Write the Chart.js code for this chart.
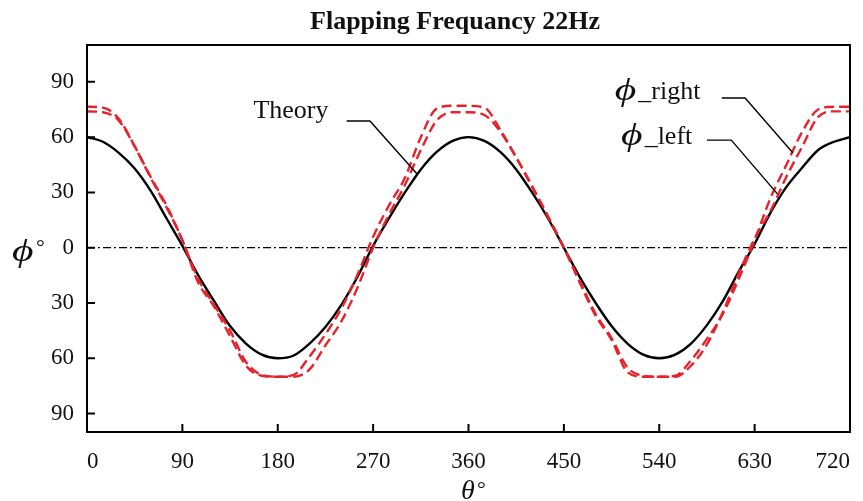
<!DOCTYPE html>
<html>
<head>
<meta charset="utf-8">
<script src="https://cdn.jsdelivr.net/npm/chart.js@4/dist/chart.umd.min.js"></script>
<style>
  html, body { margin: 0; padding: 0; background: #fff; }
  #wrap { width: 863px; height: 501px; }
</style>
</head>
<body>
<div id="wrap"><canvas id="chart"></canvas></div>
<script>
// ─── Data ────────────────────────────────────────────────────────
const theta = [0, 15, 30, 45, 60, 75, 90, 105, 120, 135, 150, 165, 180,
  195, 210, 225, 240, 255, 270, 285, 300, 315, 330, 345, 360,
  375, 390, 405, 420, 435, 450, 465, 480, 495, 510, 525, 540,
  555, 570, 585, 600, 615, 630, 645, 660, 675, 690, 705, 720];

const theory = [60, 57.5, 51.5, 43, 31, 16, 1, -15, -29, -42.5, -52, -58, -60,
  -58.5, -52, -43, -31, -16, 1, 16, 30, 42.5, 52, 58, 60,
  58, 52, 42.5, 30, 16, 0, -16, -30, -42.5, -52, -58, -60,
  -58, -52, -42, -29, -13, 2, 19, 33, 43.5, 53, 57.5, 60];

const phiRight = [76.5, 76, 70, 55, 38, 22, 4, -19, -32, -48, -64, -69.5, -70,
  -69, -59, -47, -33, -15, 6, 23, 38, 60, 75.5, 77, 77,
  76, 64, 49, 33.5, 17, 0, -19, -37, -50, -67.5, -70, -70,
  -69.5, -61, -49.5, -36, -17, 4, 27, 45, 63, 75, 76.5, 76.5];

const phiLeft = [74, 73.5, 69, 55, 38.5, 23, 4, -17, -31, -45, -62, -69, -70,
  -70, -66, -53, -40, -22, 0, 18, 34, 53, 69, 73.5, 73.5,
  72, 63, 49, 33, 17, 0, -18, -36, -49, -65, -69.5, -70,
  -70, -64, -52.5, -35, -14, 5, 20, 38.5, 55, 71, 74, 74];

const xTicks = [0, 90, 180, 270, 360, 450, 540, 630, 720];
const yTicks = [-90, -60, -30, 0, 30, 60, 90];

const TITLE = "Flapping Frequancy 22Hz";

// label anchors in data units: [theta, phi]
const theoryLabel = { text: "Theory", at: [157, 70.3] };
const rightLabel = { text: "_right", at: [498, 80.5] };
const leftLabel = { text: "_left", at: [504, 56.5] };
const theoryLeader = [[245, 68.8], [267, 68.8], [311.5, 40]];
const rightLeader = [[599, 81.2], [621, 81.2], [666, 51.5]];
const leftLeader = [[585, 58.4], [608, 58.4], [651.5, 29.2]];

// ─── Helpers ─────────────────────────────────────────────────────
const SERIF = "'Liberation Serif', 'DejaVu Serif', serif";
const RED = "#e8222c";

function pts(ys) {
  return theta.map((t, i) => ({ x: t, y: ys[i] }));
}

// italic phi, a bit wider than the font gives
function drawPhi(ctx, px, py, size) {
  ctx.save();
  ctx.translate(px, py);
  ctx.scale(1.3, 1);
  ctx.font = "italic " + size + "px " + SERIF;
  ctx.textAlign = "left";
  ctx.fillText("\u03D5", 0, 0);
  const w = ctx.measureText("\u03D5").width * 1.3;
  ctx.restore();
  return w;
}

const decorPlugin = {
  id: "decor",
  beforeDatasetsDraw(chart) {
    const { ctx, chartArea: a, scales: { y } } = chart;
    // zero reference line (dash-dot)
    ctx.save();
    ctx.strokeStyle = "#000";
    ctx.lineWidth = 1.3;
    ctx.setLineDash([8, 3, 2, 3]);
    ctx.beginPath();
    ctx.moveTo(a.left, y.getPixelForValue(0));
    ctx.lineTo(a.right, y.getPixelForValue(0));
    ctx.stroke();
    ctx.restore();
  },
  afterDatasetsDraw(chart) {
    const { ctx, chartArea: a, scales: { x, y } } = chart;
    ctx.save();
    // frame
    ctx.strokeStyle = "#000";
    ctx.lineWidth = 2;
    ctx.strokeRect(a.left, a.top, a.right - a.left, a.bottom - a.top);

    // inward ticks
    ctx.beginPath();
    yTicks.forEach(v => {
      const py = y.getPixelForValue(v);
      ctx.moveTo(a.left, py);
      ctx.lineTo(a.left + 8, py);
    });
    xTicks.forEach(v => {
      const px = x.getPixelForValue(v);
      ctx.moveTo(px, a.bottom);
      ctx.lineTo(px, a.bottom - 8);
    });
    ctx.stroke();

    // leader lines
    ctx.lineWidth = 1.4;
    [theoryLeader, rightLeader, leftLeader].forEach(line => {
      ctx.beginPath();
      line.forEach(([t, v], i) => {
        const px = x.getPixelForValue(t), py = y.getPixelForValue(v);
        if (i === 0) ctx.moveTo(px, py); else ctx.lineTo(px, py);
      });
      ctx.stroke();
    });

    // annotation labels
    ctx.fillStyle = "#111";
    ctx.textBaseline = "alphabetic";
    ctx.textAlign = "left";
    ctx.font = "26px " + SERIF;
    ctx.fillText(theoryLabel.text, x.getPixelForValue(theoryLabel.at[0]), y.getPixelForValue(theoryLabel.at[1]));
    [rightLabel, leftLabel].forEach(l => {
      const px = x.getPixelForValue(l.at[0]), py = y.getPixelForValue(l.at[1]);
      const w = drawPhi(ctx, px, py + 1, 32);
      ctx.font = "26px " + SERIF;
      ctx.fillText(l.text, px + w + 2, py);
    });

    // title
    ctx.font = "bold 26px " + SERIF;
    ctx.textAlign = "center";
    ctx.fillText(TITLE, 455, 29);

    // axis titles
    ctx.textAlign = "left";
    drawPhi(ctx, 12, 261, 32);
    ctx.font = "22px " + SERIF;
    ctx.fillText("\u00B0", 36, 254);
    ctx.font = "italic 28px " + SERIF;
    ctx.fillText("\u03B8", 461, 499);
    ctx.font = "22px " + SERIF;
    ctx.fillText("\u00B0", 477, 496);
    ctx.restore();
  }
};

// ─── Chart ───────────────────────────────────────────────────────
const chart = new Chart(document.getElementById("chart"), {
  type: "line",
  data: {
    datasets: [
      {
        label: "phi_right",
        data: pts(phiRight),
        borderColor: RED,
        borderWidth: 2.4,
        borderDash: [10, 5],
        pointRadius: 0,
        cubicInterpolationMode: "monotone",
      },
      {
        label: "phi_left",
        data: pts(phiLeft),
        borderColor: RED,
        borderWidth: 2.4,
        borderDash: [10, 5],
        pointRadius: 0,
        cubicInterpolationMode: "monotone",
      },
      {
        label: "Theory",
        data: pts(theory),
        borderColor: "#000",
        borderWidth: 2.4,
        pointRadius: 0,
        cubicInterpolationMode: "monotone",
      },
    ],
  },
  options: {
    responsive: true,
    maintainAspectRatio: false,
    animation: false,
    layout: { padding: { top: 45, right: 13, left: 0, bottom: 0 } },
    plugins: { legend: { display: false }, tooltip: { enabled: false }, title: { display: false } },
    scales: {
      x: {
        type: "linear",
        min: 0, max: 720,
        afterBuildTicks: s => { s.ticks = xTicks.map(v => ({ value: v })); },
        afterFit: s => { s.height = 69; s.paddingLeft = 0; s.paddingRight = 0; },
        grid: { display: false, drawTicks: false },
        border: { display: false },
        ticks: { color: "#111", padding: 16, maxRotation: 0, align: "inner", font: { family: SERIF, size: 23 } },
      },
      y: {
        min: -100, max: 110,
        afterBuildTicks: s => { s.ticks = yTicks.map(v => ({ value: v })); },
        afterFit: s => { s.width = 87; s.paddingTop = 0; s.paddingBottom = 0; },
        grid: { display: false, drawTicks: false },
        border: { display: false },
        ticks: {
          color: "#111", padding: 13, font: { family: SERIF, size: 23 },
          callback: v => String(Math.abs(v)),
        },
      },
    },
  },
  plugins: [decorPlugin],
});
</script>
</body>
</html>
